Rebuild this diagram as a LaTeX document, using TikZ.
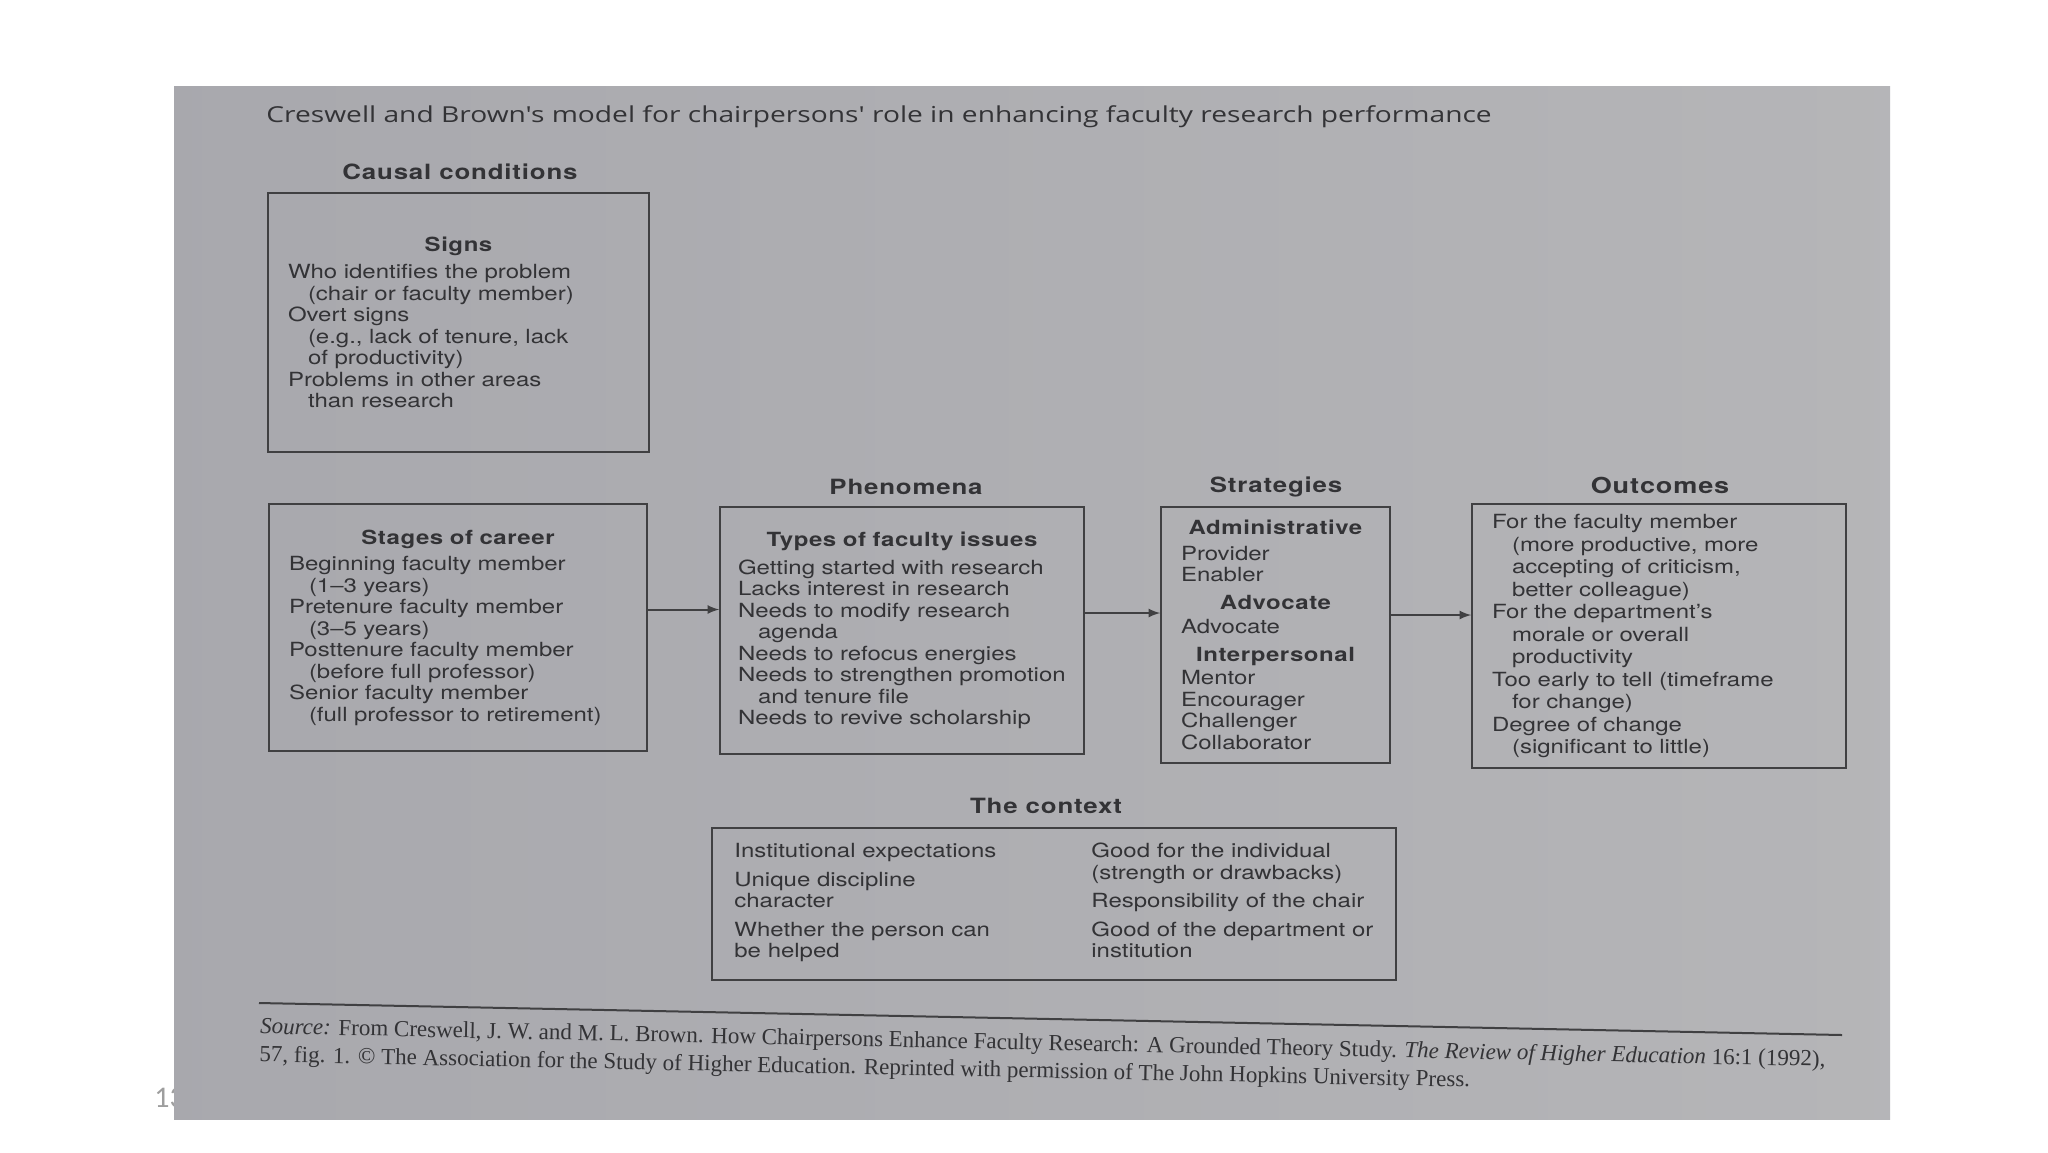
\documentclass[tikz,border=0pt]{standalone}
\usepackage{fontspec}
\setmainfont{TeX Gyre Heros}[FakeStretch=1.23]
\newfontfamily\titlefont{Open Sans}[FakeStretch=1.28]
\newfontfamily\sourcefont{Liberation Serif}
\newfontfamily\slidefont{Carlito}
\usetikzlibrary{arrows,calc,positioning}
\definecolor{PaperClr}{rgb}{0.71,0.71,0.72}
\definecolor{PaperLeftClr}{rgb}{0.66,0.66,0.68}
\definecolor{InkClr}{rgb}{0.2,0.2,0.21}
\definecolor{RuleClr}{rgb}{0.25,0.25,0.26}
\definecolor{SlideNumClr}{rgb}{0.62,0.62,0.62}
\newcommand{\subln}{\hspace*{10pt}}
\newcommand{\boxhead}[1]{\makebox[\hsize]{\bfseries\addfontfeature{LetterSpace=3}#1}}

\begin{document}
\begin{tikzpicture}[x=0.5pt,y=-0.5pt,
  box/.style={draw=RuleClr,line width=0.8pt,inner xsep=10pt,inner ysep=0pt,
    align=left,text=InkClr,font=\fontsize{9.75}{10.75}\selectfont},
  lbl/.style={text=InkClr,inner sep=0pt,
    font=\fontsize{10.5}{12}\selectfont\bfseries\addfontfeature{LetterSpace=4}},
  coltext/.style={anchor=north west,inner sep=0pt,align=left,text=InkClr,
    font=\fontsize{9.75}{10.75}\selectfont},
  flow/.style={-latex,line width=1pt,draw=RuleClr}]
\useasboundingbox (0,0) rectangle (2048,1152);
\fill[white] (0,0) rectangle (2048,1152);

% slide number, partly under the photo
\node[anchor=west,inner sep=0pt,text=SlideNumClr,font=\slidefont\fontsize{15}{18}\selectfont]
  (slidenum) at (154,1098) {13};

% the photographed page
\shade[left color=PaperLeftClr,right color=PaperClr] (174,86) rectangle (1890,1119);

\node[anchor=base west,inner sep=0pt,text=InkClr,font=\titlefont\fontsize{11}{13}\selectfont]
  (title) at (266,122)
  {Creswell and Brown's model for chairpersons' role in enhancing faculty research performance};

% causal conditions
\node[box,text width=170.5pt,minimum height=129.5pt] (signs) at (458.5,322.5)
  {\boxhead{Signs}\\[3pt]
   Who identifies the problem\\
   \subln(chair or faculty member)\\
   Overt signs\\
   \subln(e.g., lack of tenure, lack\\
   \subln of productivity)\\
   Problems in other areas\\
   \subln than research};
\node[lbl] (causal) at (460,172) {Causal conditions};

\node[box,text width=169pt,minimum height=123.5pt] (stages) at (458,627.5)
  {\boxhead{Stages of career}\\[2.5pt]
   Beginning faculty member\\
   \subln(1--3 years)\\
   Pretenure faculty member\\
   \subln(3--5 years)\\
   Posttenure faculty member\\
   \subln(before full professor)\\
   Senior faculty member\\
   \subln(full professor to retirement)};

% phenomena
\node[box,inner xsep=9pt,text width=164pt,minimum height=123.5pt] (phen) at (902,630.5)
  {\boxhead{Types of faculty issues}\\[3pt]
   Getting started with research\\
   Lacks interest in research\\
   Needs to modify research\\
   \subln agenda\\
   Needs to refocus energies\\
   \mbox{Needs to strengthen promotion}\\
   \subln and tenure file\\
   Needs to revive scholarship};
\node[lbl] (phenlbl) at (906,487) {Phenomena};

% strategies
\node[box,text width=94.5pt,minimum height=128pt] (strat) at (1275.5,635)
  {\boxhead{Administrative}\\[2pt]
   Provider\\
   Enabler\\[3pt]
   \boxhead{Advocate}\\[1.5pt]
   Advocate\\[3pt]
   \boxhead{Interpersonal}\\[1pt]
   Mentor\\
   Encourager\\
   Challenger\\
   Collaborator};
\node[lbl] (stratlbl) at (1276,487) {Strategies};

% outcomes
\node[box,text width=167pt,minimum height=132pt,
  font=\fontsize{9.75}{11.25}\selectfont] (out) at (1659,636)
  {For the faculty member\\
   \subln(more productive, more\\
   \subln accepting of criticism,\\
   \subln better colleague)\\
   For the department's\\
   \subln morale or overall\\
   \subln productivity\\
   Too early to tell (timeframe\\
   \subln for change)\\
   Degree of change\\
   \subln(significant to little)};
\node[lbl,font=\fontsize{11}{12}\selectfont\bfseries\addfontfeature{LetterSpace=4}]
  (outlbl) at (1660,485) {Outcomes};

% context
\node[box,minimum width=342pt,minimum height=76pt] (ctx) at (1054,904) {};
\node[lbl] (ctxlbl) at (1046,806) {The context};
\node[coltext] (ctxleft) at (734,843)
  {Institutional expectations\\[3.5pt]
   Unique discipline\\
   character\\[3.5pt]
   Whether the person can\\
   be helped};
\node[coltext] (ctxright) at (1091,843)
  {Good for the individual\\
   (strength or drawbacks)\\[3.5pt]
   Responsibility of the chair\\[3.5pt]
   Good of the department or\\
   institution};

% connectors
\draw[flow] ([yshift=9pt]stages.east) -- ([yshift=9pt]stages.east -| phen.west);
\draw[flow] ([yshift=8.75pt]phen.east) -- ([yshift=8.75pt]phen.east -| strat.west);
\draw[flow] ([yshift=10pt]strat.east) -- ([yshift=10pt]strat.east -| out.west);

% source note
\coordinate (rulea) at (259,1003);
\coordinate (ruleb) at (1842,1035);
\draw[RuleClr,line width=1pt] (rulea) -- (ruleb);
\node[anchor=north west,inner sep=0pt,align=left,rotate=-1.2,text=InkClr,
  font=\sourcefont\fontsize{11.5}{14}\selectfont] (source) at (260,1017)
  {\textit{Source:} From Creswell, J. W. and M. L. Brown. How Chairpersons Enhance Faculty Research: A Grounded Theory Study. \textit{The Review of Higher Education} 16:1 (1992),\\
   57, fig. 1. \textcopyright\ The Association for the Study of Higher Education. Reprinted with permission of The John Hopkins University Press.};
\end{tikzpicture}
\end{document}
